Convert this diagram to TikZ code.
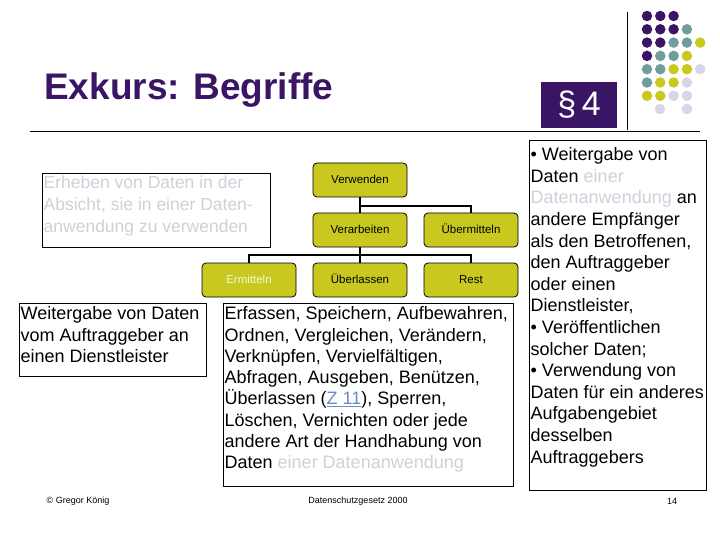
\documentclass[tikz,border=0pt]{standalone}
\usepackage{fontspec}
\setmainfont{Liberation Sans}
\begin{document}
\begin{tikzpicture}[x=1pt,y=-1pt,
  ybox/.style={draw=black,fill=yel,rounded corners=4pt,minimum width=94pt,minimum height=34pt,text height=9pt,text depth=2pt,font=\fontsize{11.5}{12}\selectfont,line width=0.8pt},
  frame/.style={draw=black,line width=0.6pt,anchor=north west,inner sep=0pt},
  ttext/.style={align=left,anchor=north west,inner sep=1.5pt},
  conn/.style={line width=1.8pt},
  dot/.style={circle,minimum size=10.5pt,inner sep=0pt}]
\definecolor{purp}{HTML}{3A1566}
\definecolor{teal}{HTML}{6F9C9C}
\definecolor{yel}{HTML}{C8C81E}
\definecolor{lite}{HTML}{D6D6E6}
\definecolor{gr}{HTML}{D0D0DA}
\definecolor{lnk}{HTML}{6A8CC8}
\useasboundingbox (0,0) rectangle (720,540);
\fill[white] (0,0) rectangle (720,540);
% title
\node[anchor=west,font=\bfseries\fontsize{37}{40}\selectfont,text=purp,inner sep=0pt] (title) at (44,90) {Exkurs: Begriffe};
\draw[line width=0.8pt] (30,131) -- (700,131);
\draw[line width=0.8pt] (627,12) -- (627,130);
\node[fill=purp,minimum width=76pt,minimum height=46pt,text=white,font=\fontsize{34}{36}\selectfont] (par) at (579,105) {§\,4};
% dots
\foreach \r/\row in {0/{purp,purp,purp},1/{purp,purp,purp,teal},2/{purp,purp,teal,teal,yel},3/{purp,teal,teal,yel},4/{teal,teal,yel,yel,lite},5/{teal,yel,yel,lite},6/{yel,yel,lite,lite}}{
  \foreach \col [count=\i from 0] in \row {
    \node[dot,fill=\col] (d\r\i) at (647+13.3*\i,16+13.3*\r) {};
  }
}
\node[dot,fill=lite] (d70) at (660,109) {};
\node[dot,fill=lite] (d71) at (687,109) {};
% org chart
\node[ybox] (verw) at (360,180) {Verwenden};
\node[ybox] (vera) at (360,230) {Verarbeiten};
\node[ybox] (uebm) at (471,230) {Übermitteln};
\node[ybox,text=white!85!yel] (ermi) at (249,280) {Ermitteln};
\node[ybox] (uebl) at (360,280) {Überlassen};
\node[ybox] (rest) at (471,280) {Rest};
\coordinate (h1) at (360,206);
\coordinate (h2) at (360,255);
\draw[conn] (verw.south) -- (vera.north);
\draw[conn] (h1) -| (uebm.north);
\draw[conn] (vera.south) -- (uebl.north);
\draw[conn] (h2) -| (ermi.north);
\draw[conn] (h2) -| (rest.north);
% text boxes
\node[frame,minimum width=228pt,minimum height=74pt] (erhF) at (42,173) {};
\node[ttext,text=gr,font=\fontsize{17.5}{22}\selectfont] (erh) at ([yshift=-1pt]erhF.north west) {Erheben von Daten in der\\Absicht, sie in einer Daten-\\anwendung zu verwenden};
\node[frame,minimum width=187pt,minimum height=73pt] (weitF) at (19,303) {};
\node[ttext,font=\fontsize{18}{21.5}\selectfont] (weit) at ([yshift=-2pt]weitF.north west) {Weitergabe von Daten\\vom Auftraggeber an\\einen Dienstleister};
\node[frame,minimum width=290pt,minimum height=183pt] (erfF) at (223,303) {};
\node[ttext,font=\fontsize{18}{21.3}\selectfont] (erf) at ([yshift=-2pt]erfF.north west) {Erfassen, Speichern, Aufbewahren,\\Ordnen, Vergleichen, Verändern,\\Verknüpfen, Vervielfältigen,\\Abfragen, Ausgeben, Benützen,\\Überlassen ({\color{lnk}\underline{Z 11}}), Sperren,\\Löschen, Vernichten oder jede\\andere Art der Handhabung von\\Daten {\color{gr}einer Datenanwendung}};
\node[frame,minimum width=177pt,minimum height=350pt] (rtF) at (529,140) {};
\node[ttext,font=\fontsize{18}{21.6}\selectfont] (rt) at ([yshift=-6pt]rtF.north west) {• Weitergabe von\\Daten {\color{gr}einer}\\{\color{gr}Datenanwendung} an\\andere Empfänger\\als den Betroffenen,\\den Auftraggeber\\oder einen\\Dienstleister,\\• Veröffentlichen\\solcher Daten;\\• Verwendung von\\Daten für ein anderes\\Aufgabengebiet\\desselben\\Auftraggebers};
% footer
\node[font=\fontsize{9}{10}\selectfont] (f1) at (78,501) {© Gregor König};
\node[font=\fontsize{9}{10}\selectfont] (f2) at (358,501) {Datenschutzgesetz 2000};
\node[font=\fontsize{9}{10}\selectfont] (f3) at (672,501) {14};
\end{tikzpicture}
\end{document}
